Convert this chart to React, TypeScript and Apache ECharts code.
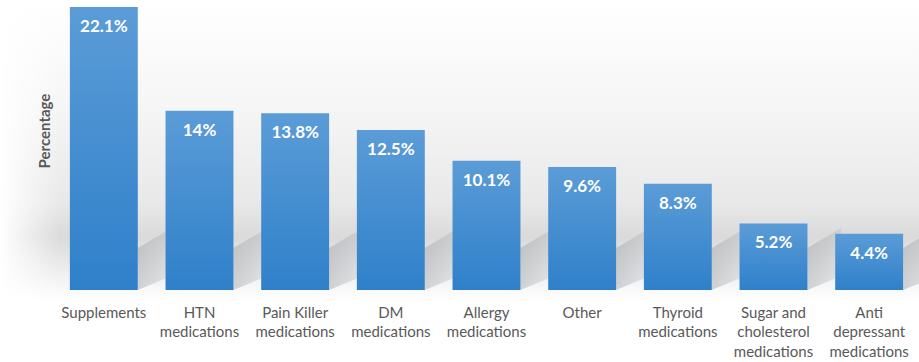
import React, { useEffect, useRef } from "react";
import * as echarts from "echarts";

const categories = [
  "Supplements",
  "HTN\nmedications",
  "Pain Killer\nmedications",
  "DM\nmedications",
  "Allergy\nmedications",
  "Other",
  "Thyroid\nmedications",
  "Sugar and\ncholesterol\nmedications",
  "Anti\ndepressant\nmedications",
];
const values = [22.1, 14, 13.8, 12.5, 10.1, 9.6, 8.3, 5.2, 4.4];
const valueLabels = ["22.1%", "14%", "13.8%", "12.5%", "10.1%", "9.6%", "8.3%", "5.2%", "4.4%"];
const yTitle = "Percentage";

const FONT = "Lato, 'Open Sans', sans-serif";

export default function App() {
  const ref = useRef<HTMLDivElement>(null);
  useEffect(() => {
    if (!ref.current) return;
    const chart = echarts.init(ref.current, undefined, { renderer: "svg" });
    chart.setOption({
      animation: false,
      backgroundColor: "#ffffff",
      graphic: [
        {
          type: "rect",
          z: -10,
          silent: true,
          shape: { x: 0, y: 0, width: 919, height: 300 },
          style: {
            fill: new echarts.graphic.LinearGradient(0, 0, 0, 1, [
              { offset: 0, color: "#ffffff" },
              { offset: 0.35, color: "#f6f6f6" },
              { offset: 0.68, color: "#e8e8e8" },
              { offset: 0.79, color: "#dadada" },
              { offset: 0.86, color: "#e6e6e6" },
              { offset: 1, color: "#ffffff" },
            ]),
          },
        },
        {
          type: "rect",
          z: -9,
          silent: true,
          shape: { x: 0, y: 0, width: 60, height: 300 },
          style: {
            fill: new echarts.graphic.LinearGradient(0, 0, 1, 0, [
              { offset: 0, color: "rgba(255,255,255,1)" },
              { offset: 1, color: "rgba(255,255,255,0)" },
            ]),
          },
        },
        {
          type: "text",
          x: 44,
          y: 131,
          rotation: Math.PI / 2,
          style: {
            text: yTitle,
            fill: "#595959",
            font: `bold 15px ${FONT}`,
            align: "center",
            verticalAlign: "middle",
          },
        },
      ],
      grid: { left: 56, right: 2, top: 7, bottom: 72, containLabel: false },
      xAxis: {
        type: "category",
        data: categories,
        axisLine: { show: false },
        axisTick: { show: false },
        axisLabel: {
          interval: 0,
          color: "#595959",
          fontFamily: FONT,
          fontSize: 15,
          lineHeight: 19.5,
          margin: 12,
        },
      },
      yAxis: {
        type: "value",
        min: 0,
        max: 22.1,
        axisLine: { show: false },
        axisTick: { show: false },
        axisLabel: { show: false },
        splitLine: { show: false },
      },
      series: [
        {
          type: "custom",
          z: 1,
          silent: true,
          data: values.map((v, i) => [i, v]),
          renderItem: (params: any, api: any) => {
            const i = api.value(0);
            const base = api.coord([i, 0]);
            const band = api.size([1, 0])[0];
            const half = band * 0.355;
            const xr = base[0] + half;
            const gap = band - 2 * half;
            const yb = base[1];
            return {
              type: "polygon",
              shape: {
                points: [
                  [xr, yb],
                  [xr, yb - 42],
                  [xr + gap + 6, yb - 62],
                  [xr + gap + 6, yb - 14],
                ],
              },
              style: {
                fill: new echarts.graphic.LinearGradient(0, 0, 1, 0, [
                  { offset: 0, color: "rgba(150,156,162,0.42)" },
                  { offset: 1, color: "rgba(150,156,162,0.18)" },
                ]),
              },
            };
          },
        },
        {
          type: "bar",
          z: 2,
          data: values,
          barWidth: "71%",
          itemStyle: {
            color: new echarts.graphic.LinearGradient(0, 0, 0, 1, [
              { offset: 0, color: "#5b9cd7" },
              { offset: 1, color: "#2f80ca" },
            ]),
          },
          label: {
            show: true,
            position: "insideTop",
            distance: 10,
            color: "#ffffff",
            fontFamily: FONT,
            fontWeight: "bold",
            fontSize: 17,
            formatter: (p: any) => valueLabels[p.dataIndex],
          },
        },
      ],
    });
    return () => chart.dispose();
  }, []);
  return (
    <div
      ref={ref}
      style={{ position: "absolute", left: 0, top: 0, width: 919, height: 362 }}
    />
  );
}
